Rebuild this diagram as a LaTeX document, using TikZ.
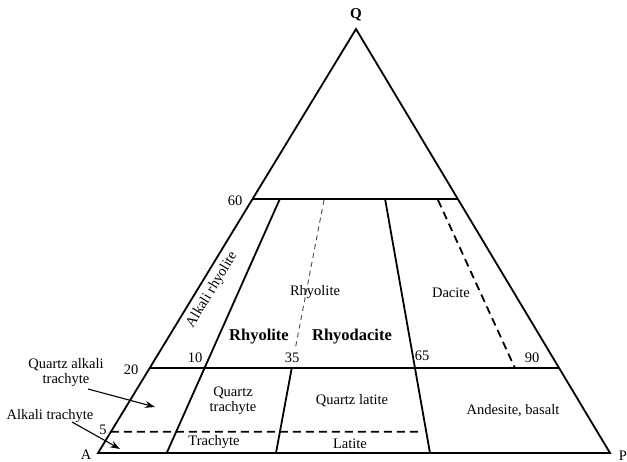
\documentclass[tikz,border=0pt]{standalone}
\usepackage{fontspec}
\setmainfont{Liberation Serif}
\usetikzlibrary{arrows.meta,calc}
\tikzset{
  edge/.style={line width=1.8pt},
  dashline/.style={line width=1.8pt, dash pattern=on 8pt off 5pt},
  thindash/.style={line width=0.9pt, dash pattern=on 5pt off 4pt},
  lbl/.style={font=\fontsize{14.5}{16}\selectfont, inner sep=0pt, align=center},
  blbl/.style={font=\fontsize{16.5}{18}\selectfont\bfseries, inner sep=0pt},
  pointer/.style={line width=1.1pt, -{Stealth[length=10pt,width=7pt]}}
}
\begin{document}
\begin{tikzpicture}[x=1pt,y=-1pt]
\useasboundingbox (0,0) rectangle (627,461);
% vertices
\coordinate (A) at (98,453);
\coordinate (P) at (610,453);
\coordinate (Q) at (356,29);
\coordinate (L60) at ($(A)!0.6!(Q)$);
\coordinate (R60) at ($(P)!0.6!(Q)$);
\coordinate (L20) at ($(A)!0.2!(Q)$);
\coordinate (R20) at ($(P)!0.2!(Q)$);
\coordinate (L5) at ($(A)!0.05!(Q)$);
\coordinate (E5) at (422,431.8);
\coordinate (t10) at (280,198.6);
\coordinate (b10) at (166.7,453);
\coordinate (t35) at (324,200);
\coordinate (m35) at (295,350);
\coordinate (u35) at (291.7,368.2);
\coordinate (b35) at (276,453);
\coordinate (t65) at (385,198.6);
\coordinate (b65) at (430,453);
\coordinate (t90) at (438,200);
\coordinate (b90) at (515,368.2);
% triangle and bands
\draw[edge, line join=miter] (A) -- (Q) -- (P) -- cycle;
\draw[edge] (L60) -- (R60);
\draw[edge] (L20) -- (R20);
\draw[dashline] (L5) -- (E5);
\draw[edge] (t10) -- (b10);
\draw[thindash, black!70] (t35) -- (m35);
\draw[edge] (u35) -- (b35);
\draw[edge] (t65) -- (b65);
\draw[dashline] (t90) -- (b90);
% vertex labels
\node[lbl, font=\fontsize{15}{16}\selectfont\bfseries] (nQ) at (356,15) {Q};
\node[lbl] (nA) at (86,454.5) {A};
\node[lbl] (nP) at (623,456) {P};
% numbers
\node[lbl] (n60) at (235,201) {60};
\node[lbl] (n20) at (131,370) {20};
\node[lbl] (n5) at (103,430) {5};
\node[lbl] (n10) at (195,358) {10};
\node[lbl] (n35) at (292,358) {35};
\node[lbl] (n65) at (422,356) {65};
\node[lbl] (n90) at (532,358) {90};
% field labels
\node[lbl, rotate=58.7] (alkrhy) at (212,290) {Alkali rhyolite};
\node[lbl] (rhy) at (315,292) {Rhyolite};
\node[lbl] (dac) at (451,293) {Dacite};
\node[blbl] (rhyB) at (259,337) {Rhyolite};
\node[blbl] (rhyd) at (352,337) {Rhyodacite};
\node[lbl] (qtr) at (233,401) {Quartz\\[-1pt]trachyte};
\node[lbl] (qlat) at (352,401) {Quartz latite};
\node[lbl] (trach) at (214,442) {Trachyte};
\node[lbl] (lat) at (350,444) {Latite};
\node[lbl] (andb) at (513,411) {Andesite, basalt};
\node[lbl] (qat) at (66,373) {Quartz alkali\\[-1pt]trachyte};
\node[lbl] (at) at (50,416) {Alkali trachyte};
% pointers
\coordinate (qatTip) at (155,407);
\coordinate (atTip) at (120,449);
\draw[pointer] (88,389) -- (qatTip);
\draw[pointer] (72,422) -- (atTip);
\end{tikzpicture}
\end{document}
